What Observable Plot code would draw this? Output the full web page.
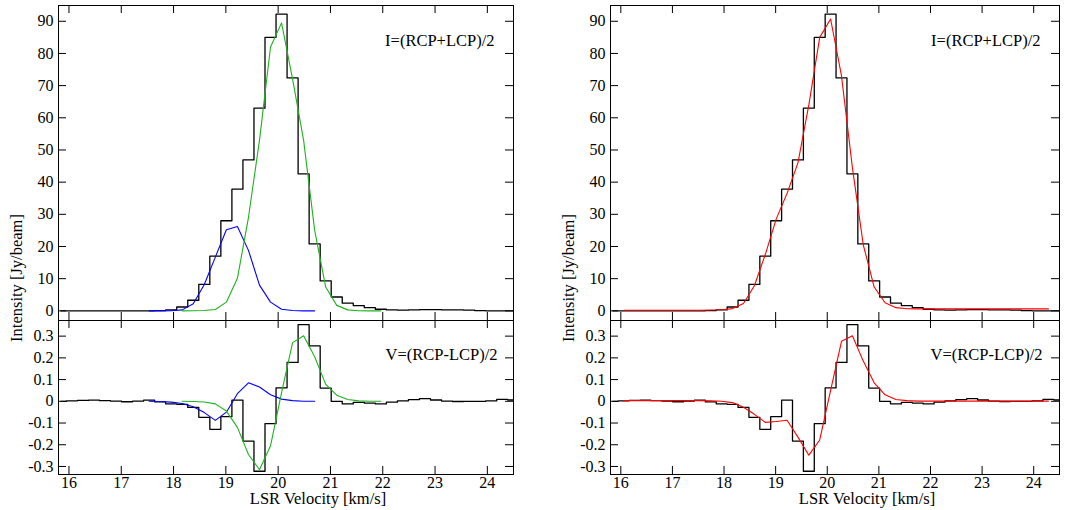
<!DOCTYPE html>
<html><head><meta charset="utf-8">
<script src="https://cdn.jsdelivr.net/npm/d3@7"></script>
<script src="https://cdn.jsdelivr.net/npm/@observablehq/plot@0.6"></script>
<style>
body{margin:0;background:#fff;}
#fig{position:relative;width:1088px;height:510px;}
#fig svg{position:absolute;font-family:"Liberation Serif","Times New Roman",serif;}
#fig svg text{font-family:"Liberation Serif","Times New Roman",serif !important;}
</style></head><body><div id="fig"></div>
<script>
// Channel centres (km/s) of the observed spectrum
const velocity = [15.845,16.056,16.267,16.478,16.689,16.900,17.111,17.322,17.533,17.744,17.955,18.166,18.377,18.588,18.799,19.010,19.221,19.432,19.643,19.854,20.065,20.276,20.487,20.698,20.909,21.120,21.331,21.542,21.753,21.964,22.175,22.386,22.597,22.808,23.019,23.230,23.441,23.652,23.863,24.074,24.285,24.496];
// Observed Stokes I and V (Jy/beam)
const stokesI = [0,0,0,0,0,0,0,0,0,0.1,0.3,1.2,3.3,8.2,17.0,28.0,37.8,46.9,63.0,85.0,92.2,72.4,42.6,20.8,9.3,4.3,2.4,1.6,1.0,0.5,0.3,0.2,0.3,0.4,0.4,0.3,0.3,0.2,0.1,0,0,0];
const stokesV = [0,0.002,0.004,0.005,0.003,0.001,-0.002,0.001,0.005,-0.003,-0.012,-0.014,-0.028,-0.074,-0.129,-0.071,0.005,-0.183,-0.322,-0.103,0.062,0.179,0.353,0.255,0.061,0.000,-0.012,-0.005,-0.008,-0.012,-0.004,0.002,0.008,0.012,0.006,0.001,-0.001,0,0,0.002,0.009,0.006];
// Component 1 model (green)
const greenVel = [18.166,18.377,18.588,18.799,19.010,19.221,19.432,19.643,19.854,20.065,20.276,20.487,20.698,20.909,21.120,21.331,21.542,21.753,21.964];
const greenI = [0,0.02,0.1,0.4,2.7,10.1,29,53,82,89.5,72,53,25,7.4,1.7,0.3,0.05,0,0];
const greenV = [0,-0.001,-0.003,-0.012,-0.045,-0.12,-0.245,-0.315,-0.205,0.04,0.27,0.302,0.205,0.078,0.028,0.008,0.002,0,0];
// Component 2 model (blue)
const blueVel = [17.533,17.744,17.955,18.166,18.377,18.588,18.799,19.010,19.221,19.432,19.643,19.854,20.065,20.276,20.487,20.698];
const blueI = [0,0,0.05,0.3,2.2,8.2,16.7,25.2,26.2,18.8,8.0,2.7,0.5,0.1,0,0];
const blueV = [0,-0.001,-0.004,-0.01,-0.025,-0.052,-0.088,-0.05,0.035,0.085,0.066,0.03,0.01,0.003,0,0];
// Total model (red)
const redVel = [16.056,16.267,16.478,16.689,16.900,17.111,17.322,17.533,17.744,17.955,18.166,18.377,18.588,18.799,19.010,19.221,19.432,19.643,19.854,20.065,20.276,20.487,20.698,20.909,21.120,21.331,21.542,21.753,21.964,22.175,22.386,22.597,22.808,23.019,23.230,23.441,23.652,23.863,24.074,24.285];
const redI = [0.2,0.2,0.2,0.2,0.2,0.2,0.2,0.2,0.25,0.35,0.7,2.3,7.8,17.5,28.5,36.5,46,64,85,90.7,73,44.5,20.5,7.4,2.5,1.0,0.65,0.6,0.6,0.6,0.6,0.6,0.6,0.6,0.6,0.6,0.6,0.6,0.6,0.6];
const redV = [0.003,0.003,0.003,0.003,0.003,0.003,0.003,0.003,0.002,0,-0.006,-0.027,-0.06,-0.097,-0.093,-0.087,-0.165,-0.248,-0.178,0.05,0.276,0.302,0.185,0.085,0.03,0.008,0.003,0.001,0.001,0.001,0.001,0.001,0.001,0.001,0.001,0.001,0.001,0.001,0.001,0.001];

const xTicks = [16,17,18,19,20,21,22,23,24];
const iTicks = [0,10,20,30,40,50,60,70,80,90];
const vTicks = [-0.3,-0.2,-0.1,0,0.1,0.2,0.3];
const xDomain = [15.8, 24.5];
const iDomain = [-3, 94.9];
const vDomain = [-0.337, 0.372];
const labelI = "I=(RCP+LCP)/2";
const labelV = "V=(RCP-LCP)/2";
const labelX = "LSR Velocity [km/s]";
const labelY = "Intensity [Jy/beam]";

const obs = velocity.map((v, i) => ({v, I: stokesI[i], V: stokesV[i]}));
const green = greenVel.map((v, i) => ({v, I: greenI[i], V: greenV[i]}));
const blue = blueVel.map((v, i) => ({v, I: blueI[i], V: blueV[i]}));
const red = redVel.map((v, i) => ({v, I: redI[i], V: redV[i]}));

const FONT = '"Liberation Serif", "Times New Roman", serif';
const TL = 8;
const fig = document.getElementById("fig");

function panel({left, top, width, height, ml, mr, mt, mb, yDomain, yTicks, yFormat, marks, bottom, yLabel}) {
  const innerW = width - ml - mr, innerH = height - mt - mb;
  const all = [
    ...marks,
    Plot.frame({stroke: "#000", strokeWidth: 1}),
    Plot.ruleX(xTicks, {x: d => d, insetTop: innerH - TL, stroke: "#000"}),
    Plot.ruleX(xTicks, {x: d => d, insetBottom: innerH - TL, stroke: "#000"}),
    Plot.ruleY(yTicks, {y: d => d, insetRight: innerW - TL, stroke: "#000"}),
    Plot.ruleY(yTicks, {y: d => d, insetLeft: innerW - TL, stroke: "#000"}),
    Plot.axisY(yTicks, {tickSize: 0, tickPadding: 5, tickFormat: yFormat, label: null, fontSize: 16, fontFamily: FONT})
  ];
  if (bottom) {
    all.push(Plot.axisX(xTicks, {tickSize: 0, tickPadding: 2, label: null, fontSize: 16, fontFamily: FONT}));
    all.push(Plot.text([labelX], {text: d => d, frameAnchor: "bottom", dx: 32, dy: 24, textAnchor: "middle", lineAnchor: "middle", fontSize: 16.5, fontFamily: FONT}));
  }
  if (yLabel) {
    all.push(Plot.text([labelY], {text: d => d, frameAnchor: "left", rotate: -90, dx: yLabel.dx, dy: yLabel.dy, textAnchor: "middle", lineAnchor: "middle", fontSize: 16.5, fontFamily: FONT}));
  }
  const svg = Plot.plot({
    width, height, marginLeft: ml, marginRight: mr, marginTop: mt, marginBottom: mb,
    style: {background: "transparent", overflow: "visible", fontFamily: FONT, fontSize: "16px", color: "#000"},
    x: {domain: xDomain, axis: bottom ? undefined : null},
    y: {domain: yDomain},
    marks: all
  });
  svg.style.left = left + "px";
  svg.style.top = top + "px";
  fig.appendChild(svg);
}

const vFormat = d => d === 0 ? "0" : String(d);
const iFormat = d => String(d);

function annot(text, dx, dy) {
  return Plot.text([text], {text: d => d, frameAnchor: "top-right", dx, dy, textAnchor: "end", lineAnchor: "middle", fontSize: 16.5, fontFamily: FONT});
}

// Left column
panel({left: 0, top: 0, width: 540, height: 320, ml: 58, mr: 27, mt: 5, mb: 0,
  yDomain: iDomain, yTicks: iTicks, yFormat: iFormat, yLabel: {dx: -42, dy: 115},
  marks: [
    Plot.line(obs, {x: "v", y: "I", curve: "step", stroke: "#000", strokeWidth: 1.3}),
    Plot.line(blue, {x: "v", y: "I", stroke: "#0000ff", strokeWidth: 1.1}),
    Plot.line(green, {x: "v", y: "I", stroke: "#1db31d", strokeWidth: 1.1}),
    annot(labelI, -19, 35)
  ]});
panel({left: 0, top: 320, width: 540, height: 190, ml: 58, mr: 27, mt: 0, mb: 36,
  yDomain: vDomain, yTicks: vTicks, yFormat: vFormat, bottom: true,
  marks: [
    Plot.line(obs, {x: "v", y: "V", curve: "step", stroke: "#000", strokeWidth: 1.3}),
    Plot.line(blue, {x: "v", y: "V", stroke: "#0000ff", strokeWidth: 1.1}),
    Plot.line(green, {x: "v", y: "V", stroke: "#1db31d", strokeWidth: 1.1}),
    annot(labelV, -16, 34)
  ]});
// Right column
panel({left: 540, top: 0, width: 548, height: 320, ml: 70, mr: 29, mt: 5, mb: 0,
  yDomain: iDomain, yTicks: iTicks, yFormat: iFormat, yLabel: {dx: -41.5, dy: 115},
  marks: [
    Plot.line(obs, {x: "v", y: "I", curve: "step", stroke: "#000", strokeWidth: 1.3}),
    Plot.line(red, {x: "v", y: "I", stroke: "#ff0000", strokeWidth: 1.1}),
    annot(labelI, -19, 35)
  ]});
panel({left: 540, top: 320, width: 548, height: 190, ml: 70, mr: 29, mt: 0, mb: 36,
  yDomain: vDomain, yTicks: vTicks, yFormat: vFormat, bottom: true,
  marks: [
    Plot.line(obs, {x: "v", y: "V", curve: "step", stroke: "#000", strokeWidth: 1.3}),
    Plot.line(red, {x: "v", y: "V", stroke: "#ff0000", strokeWidth: 1.1}),
    annot(labelV, -17, 34)
  ]});
</script></body></html>
